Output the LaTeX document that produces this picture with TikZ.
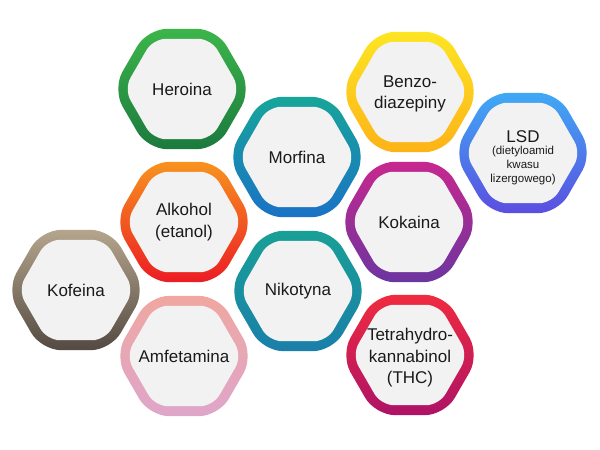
\documentclass[tikz,border=0pt]{standalone}
\usepackage{fontspec}
\setmainfont{Liberation Sans}
\usetikzlibrary{shapes.geometric}
\definecolor{innerfill}{HTML}{F2F2F2}
\definecolor{txtc}{HTML}{1A1A1A}
\definecolor{herT}{HTML}{3CB54A}\definecolor{herB}{HTML}{1B7A3E}
\definecolor{benT}{HTML}{FDE523}\definecolor{benB}{HTML}{FDB317}
\definecolor{lsdT}{HTML}{3FA9F5}\definecolor{lsdB}{HTML}{5B4EE0}
\definecolor{morT}{HTML}{17A59A}\definecolor{morB}{HTML}{1A72C6}
\definecolor{alkT}{HTML}{F7931E}\definecolor{alkB}{HTML}{EC1C24}
\definecolor{kokT}{HTML}{C7288E}\definecolor{kokB}{HTML}{6C35A0}
\definecolor{kofT}{HTML}{B5A58D}\definecolor{kofB}{HTML}{544A42}
\definecolor{nikT}{HTML}{19A096}\definecolor{nikB}{HTML}{1A7FAA}
\definecolor{amfT}{HTML}{EFA7A0}\definecolor{amfB}{HTML}{DFA6CB}
\definecolor{thcT}{HTML}{F02B3F}\definecolor{thcB}{HTML}{AE1266}
\begin{document}
\begin{tikzpicture}[x=1pt,y=-1pt,
  hexo/.style={regular polygon, regular polygon sides=6, minimum size=139pt,
    inner sep=0pt, outer sep=0pt, rounded corners=20pt, draw=none},
  hexi/.style={regular polygon, regular polygon sides=6, minimum size=116pt,
    inner sep=0pt, outer sep=0pt, rounded corners=13pt, fill=innerfill, draw=none},
  lbl/.style={font=\fontsize{17}{21.5}\selectfont, text=txtc, align=center, inner sep=0pt},
  sublbl/.style={font=\fontsize{11.5}{14}\selectfont, text=txtc, align=center, inner sep=0pt}]
\useasboundingbox (0,0) rectangle (600,450);

% Heroina
\node[hexo, top color=herT, bottom color=herB] (herO) at (182,89) {};
\node[hexi] (herI) at (herO.center) {};
\node[lbl] (herL) at (herO.center) {Heroina};
% Benzodiazepiny
\node[hexo, top color=benT, bottom color=benB] (benO) at (410,92) {};
\node[hexi] (benI) at (benO.center) {};
\node[lbl] (benL) at (410,94) {Benzo-\\diazepiny};
% LSD
\node[hexo, top color=lsdT, bottom color=lsdB] (lsdO) at (523,153) {};
\node[hexi] (lsdI) at (lsdO.center) {};
\node[lbl] (lsdL) at (523,137) {LSD};
\node[sublbl] (lsdS) at (523,166) {(dietyloamid\\kwasu\\lizergowego)};
% Morfina
\node[hexo, top color=morT, bottom color=morB] (morO) at (297,157) {};
\node[hexi] (morI) at (morO.center) {};
\node[lbl] (morL) at (morO.center) {Morfina};
% Alkohol
\node[hexo, top color=alkT, bottom color=alkB] (alkO) at (184,222) {};
\node[hexi] (alkI) at (alkO.center) {};
\node[lbl] (alkL) at (alkO.center) {Alkohol\\(etanol)};
% Kokaina
\node[hexo, top color=kokT, bottom color=kokB] (kokO) at (409,222) {};
\node[hexi] (kokI) at (kokO.center) {};
\node[lbl] (kokL) at (kokO.center) {Kokaina};
% Kofeina
\node[hexo, top color=kofT, bottom color=kofB] (kofO) at (76,290) {};
\node[hexi] (kofI) at (kofO.center) {};
\node[lbl] (kofL) at (kofO.center) {Kofeina};
% Nikotyna
\node[hexo, top color=nikT, bottom color=nikB] (nikO) at (298,291) {};
\node[hexi] (nikI) at (nikO.center) {};
\node[lbl] (nikL) at (nikO.center) {Nikotyna};
% Amfetamina
\node[hexo, top color=amfT, bottom color=amfB] (amfO) at (184,356) {};
\node[hexi] (amfI) at (amfO.center) {};
\node[lbl] (amfL) at (amfO.center) {Amfetamina};
% THC
\node[hexo, top color=thcT, bottom color=thcB] (thcO) at (410,355) {};
\node[hexi] (thcI) at (thcO.center) {};
\node[lbl] (thcL) at (410,358) {Tetrahydro-\\kannabinol\\(THC)};
\end{tikzpicture}
\end{document}
